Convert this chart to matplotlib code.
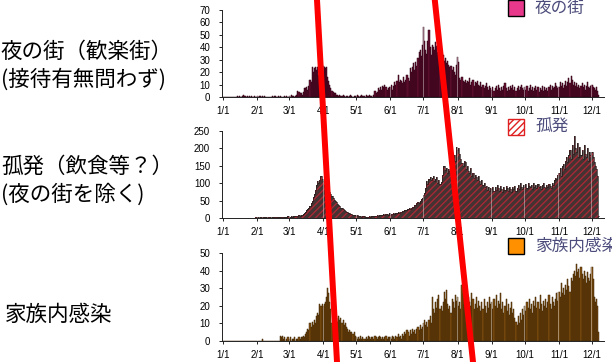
import numpy as np
import matplotlib.pyplot as plt
from matplotlib.patches import Rectangle
from matplotlib.lines import Line2D

# --- DATA (daily counts from 2020-01-01) ---

night_district = [
    # Jan
    0, 0, 0, 0, 0, 0, 0, 0, 0, 0, 0, 0, 0, 1, 0, 1, 0, 0, 1, 2, 1, 0, 1, 0, 1, 0, 1, 0, 0, 1, 0,
    # Feb
    1, 0, 1, 1, 0, 1, 0, 1, 0, 0, 0, 0, 0, 0, 1, 0, 1, 1, 0, 1, 0, 1, 0, 0, 0, 1, 0, 1, 0,
    # Mar
    1, 0, 2, 1, 1, 0, 1, 2, 5, 4, 3, 3, 2, 4, 7, 7, 8, 6, 9, 14, 12, 24, 20, 23, 24, 22, 24, 18, 21, 24, 25,
    # Apr
    25, 24, 23, 24, 16, 13, 10, 7, 5, 4, 3, 3, 2, 2, 1, 2, 1, 1, 2, 1, 0, 1, 1, 0, 1, 2, 1, 0, 1, 1,
    # May
    1, 2, 1, 0, 1, 2, 1, 1, 0, 2, 1, 1, 2, 1, 1, 0, 2, 5, 3, 4, 7, 6, 8, 6, 9, 8, 10, 8, 6, 7, 8,
    # Jun
    8, 10, 6, 9, 12, 10, 13, 18, 12, 14, 13, 11, 16, 12, 14, 18, 15, 13, 23, 20, 24, 27, 22, 28, 25, 31, 36, 38, 33, 42,
    # Jul
    56, 45, 38, 35, 45, 54, 40, 34, 42, 40, 38, 44, 41, 36, 46, 42, 38, 32, 34, 29, 31, 27, 29, 26, 24, 25, 22, 24, 20, 18, 26,
    # Aug
    32, 28, 15, 14, 16, 13, 12, 14, 11, 13, 12, 15, 10, 12, 14, 9, 12, 11, 13, 10, 9, 12, 8, 10, 7, 9, 11, 8, 6, 9, 7,
    # Sep
    6, 8, 5, 7, 9, 6, 10, 7, 5, 8, 6, 9, 11, 7, 5, 8, 6, 9, 7, 10, 6, 8, 5, 7, 9, 6, 8, 10, 7, 6,
    # Oct
    8, 6, 9, 5, 7, 10, 6, 8, 5, 7, 9, 6, 8, 4, 7, 6, 9, 5, 8, 6, 7, 5, 8, 10, 6, 9, 7, 8, 11, 9, 7,
    # Nov
    8, 12, 9, 11, 7, 10, 13, 9, 12, 15, 11, 17, 14, 10, 12, 9, 11, 8, 10, 7, 9, 11, 8, 10, 6, 9, 12, 8, 7, 9,
    # Dec
    10, 8, 7, 6, 8, 5, 2,
]

isolated = [
    # Jan
    0, 0, 0, 1, 0, 0, 0, 1, 0, 0, 1, 0, 0, 1, 0, 0, 1, 0, 1, 0, 0, 1, 1, 0, 1, 0, 1, 1, 0, 1, 2,
    # Feb
    3, 2, 1, 2, 3, 1, 2, 2, 3, 1, 2, 3, 2, 1, 3, 2, 2, 4, 3, 2, 3, 2, 4, 3, 3, 2, 4, 3, 5,
    # Mar
    4, 3, 5, 4, 6, 5, 7, 5, 6, 8, 7, 9, 10, 12, 15, 18, 22, 26, 30, 35, 42, 50, 60, 70, 80, 95, 105, 100, 110, 121, 112,
    # Apr
    105, 95, 88, 92, 80, 86, 75, 68, 62, 58, 52, 48, 45, 40, 38, 35, 30, 28, 26, 22, 20, 18, 17, 15, 14, 12, 11, 10, 9, 8,
    # May
    7, 8, 6, 5, 6, 4, 5, 5, 3, 4, 4, 3, 5, 4, 6, 5, 7, 6, 5, 8, 7, 9, 8, 10, 9, 11, 10, 12, 11, 10, 13,
    # Jun
    10, 12, 11, 13, 12, 15, 14, 16, 15, 18, 17, 20, 19, 22, 24, 23, 26, 28, 27, 30, 33, 32, 36, 38, 42, 45, 44, 50, 55, 58,
    # Jul
    66, 72, 85, 105, 98, 112, 118, 108, 115, 120, 105, 112, 118, 100, 108, 98, 104, 125, 150, 148, 138, 145, 130, 142, 135,
    128, 140, 155, 180, 165, 205,
    # Aug
    195, 200, 185, 170, 158, 150, 165, 160, 140, 150, 135, 128, 145, 120, 130, 115, 125, 118, 110, 120, 105, 98, 110, 95,
    100, 88, 92, 80, 90, 78, 85,
    # Sep
    82, 90, 78, 88, 80, 95, 85, 78, 92, 84, 76, 88, 80, 93, 86, 79, 90, 82, 75, 88, 84, 92, 78, 85, 95, 82, 100, 88, 84, 96,
    # Oct
    90, 98, 85, 102, 92, 88, 96, 84, 100, 90, 94, 86, 98, 88, 92, 84, 96, 100, 90, 86, 94, 88, 98, 92, 85, 100, 95, 108,
    115, 112, 125,
    # Nov
    130, 145, 120, 150, 155, 140, 165, 175, 160, 180, 195, 170, 210, 185, 236, 200, 190, 215, 175, 205, 180, 195, 170, 210,
    185, 175, 200, 165, 190, 180,
    # Dec
    190, 175, 160, 150, 140, 120, 5,
]

household = [
    # Jan
    0, 0, 0, 0, 0, 0, 0, 0, 0, 0, 0, 0, 0, 0, 0, 0, 0, 0, 0, 0, 0, 0, 0, 0, 0, 0, 0, 0, 0, 0, 0,
    # Feb
    0, 0, 0, 0, 0, 1, 0, 0, 0, 0, 0, 0, 0, 0, 0, 0, 0, 0, 0, 0, 0, 3, 2, 3, 1, 2, 0, 1, 2,
    # Mar
    1, 2, 0, 1, 1, 2, 0, 1, 1, 2, 1, 2, 2, 3, 2, 4, 5, 7, 6, 10, 8, 11, 9, 12, 10, 14, 16, 15, 21, 20, 21,
    # Apr
    20, 21, 22, 25, 30, 27, 22, 18, 10, 8, 6, 9, 13, 11, 14, 12, 13, 10, 12, 9, 10, 8, 7, 5, 6, 5, 5, 4, 5, 3,
    # May
    2, 1, 2, 1, 3, 1, 2, 1, 1, 2, 1, 3, 2, 1, 2, 2, 1, 3, 2, 1, 2, 3, 2, 1, 2, 1, 2, 3, 1, 2, 2,
    # Jun
    2, 1, 3, 2, 1, 3, 2, 4, 2, 3, 1, 4, 3, 5, 4, 6, 5, 3, 6, 4, 7, 5, 6, 4, 7, 8, 6, 9, 7, 8,
    # Jul
    10, 12, 9, 11, 8, 12, 14, 10, 25, 18, 16, 22, 19, 24, 26, 18, 20, 17, 22, 28, 24, 29, 21, 18, 20, 16, 24, 22, 19, 26, 23,
    # Aug
    25, 20, 22, 18, 32, 27, 21, 30, 23, 19, 25, 22, 20, 27, 24, 18, 21, 25, 19, 23, 20, 17, 22, 18, 24, 20, 16, 22, 19, 25, 21,
    # Sep
    22, 18, 24, 20, 26, 19, 23, 21, 27, 18, 22, 16, 20, 24, 17, 21, 15, 19, 22, 16, 18, 13, 11, 9, 14, 10, 16, 12, 18, 15,
    # Oct
    20, 17, 22, 19, 24, 18, 21, 16, 23, 20, 25, 19, 22, 18, 26, 21, 17, 23, 20, 24, 19, 22, 26, 21, 18, 25, 22, 20, 24, 27, 23,
    # Nov
    28, 25, 33, 27, 30, 26, 32, 29, 35, 31, 28, 36, 34, 38, 40, 37, 44, 39, 41, 36, 42, 38, 35, 40, 37, 33, 39, 36, 34, 38,
    # Dec
    42, 35, 25, 22, 24, 20, 5,
]

month_labels = ["1/1", "2/1", "3/1", "4/1", "5/1", "6/1", "7/1", "8/1", "9/1", "10/1", "11/1", "12/1"]

row_titles = [
    "夜の街（歓楽街）\n(接待有無問わず)",
    "孤発（飲食等？）\n(夜の街を除く)",
    "家族内感染",
]
legend_labels = ["夜の街", "孤発", "家族内感染"]
y_limits = [70, 250, 50]
y_steps = [10, 50, 10]

assert len(night_district) == len(isolated) == len(household)

# --- STYLE ---

plt.rcParams['font.family'] = ['Liberation Sans', 'DejaVu Sans']
JP_FONT = ['Noto Sans CJK JP', 'DejaVu Sans']

START = np.datetime64("2020-01-01")
month_pos = [(np.datetime64(f"2020-{m:02d}-01") - START).astype(int) for m in range(1, 13)]

W, H = 612, 362
PX_PER_DAY = 369 / 335
AX_LEFT_PX = 223 - PX_PER_DAY * 1.0
AX_WIDTH_PX = PX_PER_DAY * 347
# (top px, bottom px) of each panel
PANEL_PX = [(10, 97), (131, 218), (253, 341)]

bar_styles = [
    dict(color="#6a1034", edgecolor="#2a0012", linewidth=0.35),
    dict(color="#453232", edgecolor="#a52a36", linewidth=0.0, hatch="/////"),
    dict(color="#855210", edgecolor="#3a2202", linewidth=0.35),
]
legend_patches = [
    dict(facecolor="#e8388c", edgecolor="black"),
    dict(facecolor="white", edgecolor="#e02020", hatch="/////"),
    dict(facecolor="#ff9000", edgecolor="black"),
]
legend_y_px = [8, 127, 246]
title_y_px = [(52, 80), (167, 195), (315,)]

series = [night_district, isolated, household]

fig = plt.figure(figsize=(W / 100, H / 100), dpi=100)

for i, values in enumerate(series):
    top, bottom = PANEL_PX[i]
    ax = fig.add_axes([AX_LEFT_PX / W, 1 - bottom / H, AX_WIDTH_PX / W, (bottom - top) / H])
    days = np.arange(len(values))
    ax.bar(days, values, width=1.0, align="center", **bar_styles[i])
    if i == 1:
        # dark outline along the top of the hatched bars
        ax.step(days, values, where="mid", color="#2a1a1a", lw=0.5, zorder=2)
    for p in month_pos[1:]:
        ax.axvline(p - 0.5, color="white", lw=0.5, alpha=0.55, zorder=3)

    ax.set_xlim(-1, 346)
    ax.set_ylim(0, y_limits[i])
    ax.set_yticks(np.arange(0, y_limits[i] + 1, y_steps[i]))
    ax.set_xticks(month_pos)
    ax.set_xticklabels(month_labels)
    ax.tick_params(axis="both", labelsize=7, length=2.5, width=0.6, colors="black")
    ax.tick_params(axis="y", pad=6)
    ax.tick_params(axis="x", pad=4)
    for side in ("top", "right"):
        ax.spines[side].set_visible(False)
    for side in ("left", "bottom"):
        ax.spines[side].set_linewidth(0.7)
        ax.spines[side].set_color("#222222")
    ax.patch.set_alpha(0)

    # legend square + label
    ly = legend_y_px[i]
    fig.patches.append(Rectangle((508 / W, 1 - (ly + 8) / H), 16 / W, 16 / H,
                                 transform=fig.transFigure, linewidth=1.0, **legend_patches[i]))
    fig.text(535 / W, 1 - ly / H, legend_labels[i], family=JP_FONT, fontsize=12,
             color="#4c4c7c", va="center", ha="left")

    # row title on the left
    lines = row_titles[i].split("\n")
    for line, ty in zip(lines, title_y_px[i]):
        x0 = 5 if i == 2 else 1
        fig.text(x0 / W, 1 - ty / H, line, family=JP_FONT, fontsize=15.5,
                 color="black", va="center", ha="left")

# red annotation lines drawn over the whole figure
RED_LINES = [((317, 0), (337, 362)), ((435, 2), (473, 362))]
for (x0, y0), (x1, y1) in RED_LINES:
    fig.lines.append(Line2D([x0 / W, x1 / W], [1 - y0 / H, 1 - y1 / H],
                            transform=fig.transFigure, color="#ff0000", lw=4.3, zorder=10))

fig.savefig("out.png", dpi=100)
